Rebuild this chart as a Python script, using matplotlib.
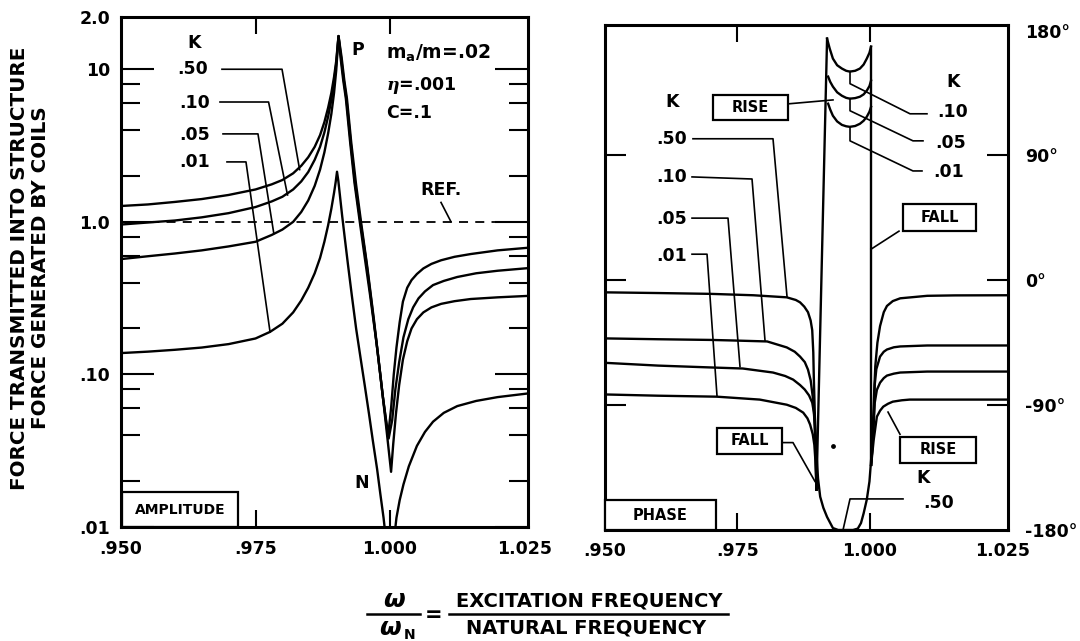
import matplotlib
matplotlib.use("Agg")
import matplotlib.pyplot as plt
from matplotlib.patches import Rectangle
from matplotlib.lines import Line2D
from matplotlib.ticker import FixedLocator, NullFormatter
import numpy as np

nan = np.nan

# ---- amplitude panel: force ratio vs frequency ratio, one curve per K
amp_k50_f = [0.9500, 0.9550, 0.9600, 0.9650, 0.9700, 0.9750, 0.9780, 0.9800, 0.9820, 0.9835,
             0.9848, 0.9860, 0.9870, 0.9878, 0.9885, 0.9891, 0.9896, 0.9900, 0.99043,
             0.9908, 0.9913, 0.9918, 0.9926, 0.9934, 0.9943, 0.9952, 0.9963, 0.9975, 0.9986,
             0.99963, 1.0002, 1.0007, 1.0012, 1.0018, 1.0024, 1.0032, 1.0040, 1.0050, 1.0062,
             1.0077, 1.0095, 1.0120, 1.0150, 1.0200, 1.0256]
amp_k50 = [1.27, 1.30, 1.35, 1.41, 1.50, 1.63, 1.76, 1.88, 2.08, 2.33,
           2.65, 3.1, 3.7, 4.5, 5.6, 7.0, 8.9, 11.3, 16.5,
           12.0, 8.5, 6.4, 3.3, 1.8, 1.05, 0.62, 0.33, 0.16, 0.075,
           0.039, 0.06, 0.10, 0.15, 0.22, 0.30, 0.37, 0.415, 0.455, 0.495,
           0.53, 0.56, 0.59, 0.615, 0.65, 0.676]

amp_k10_f = [0.9500, 0.9550, 0.9600, 0.9650, 0.9700, 0.9750, 0.9780, 0.9800, 0.9820, 0.9835,
             0.9848, 0.9860, 0.9870, 0.9878, 0.9885, 0.9891, 0.9896, 0.9900, 0.99043,
             0.9909, 0.9914, 0.9919, 0.9927, 0.9935, 0.9945, 0.9955, 0.9966, 0.9977, 0.9987,
             0.99975, 1.0004, 1.0010, 1.0017, 1.0025, 1.0034, 1.0043, 1.0053, 1.0065, 1.0080,
             1.0100, 1.0125, 1.0160, 1.0200, 1.0256]
amp_k10 = [0.96, 0.99, 1.02, 1.07, 1.14, 1.25, 1.36, 1.46, 1.63, 1.84,
           2.12, 2.55, 3.1, 3.85, 4.9, 6.3, 8.3, 10.8, 16.5,
           12.0, 8.5, 6.4, 3.3, 1.8, 1.0, 0.58, 0.29, 0.14, 0.07,
           0.038, 0.05, 0.08, 0.12, 0.175, 0.23, 0.275, 0.315, 0.35, 0.385,
           0.41, 0.435, 0.46, 0.478, 0.497]

amp_k05_f = [0.9500, 0.9550, 0.9600, 0.9650, 0.9700, 0.9750, 0.9780, 0.9800, 0.9820, 0.9835,
             0.9848, 0.9860, 0.9870, 0.9878, 0.9885, 0.9891, 0.9896, 0.9900, 0.99043,
             0.9910, 0.9915, 0.9920, 0.9928, 0.9937, 0.9947, 0.9958, 0.9970, 0.9982, 0.9993,
             1.0002, 1.0006, 1.0011, 1.0017, 1.0024, 1.0032, 1.0040, 1.0050, 1.0062, 1.0077,
             1.0095, 1.0120, 1.0150, 1.0200, 1.0256]
amp_k05 = [0.57, 0.595, 0.62, 0.65, 0.69, 0.74, 0.82, 0.89, 1.0, 1.16,
           1.38, 1.72, 2.2, 2.85, 3.8, 5.1, 7.0, 9.8, 16.5,
           12.0, 8.5, 6.4, 3.3, 1.75, 0.95, 0.5, 0.23, 0.10, 0.045,
           0.023, 0.035, 0.055, 0.085, 0.125, 0.165, 0.20, 0.23, 0.255, 0.275,
           0.29, 0.302, 0.312, 0.32, 0.327]

amp_k01_f = [0.9500, 0.9550, 0.9600, 0.9650, 0.9700, 0.9750, 0.9777, 0.9800, 0.9820, 0.9835,
             0.9848, 0.9860, 0.9870, 0.9878, 0.9885, 0.9891, 0.9896, 0.9899, 0.99015,
             0.9904, 0.9907, 0.9911, 0.9916, 0.9922, 0.9929, 0.9937, 0.9945, 0.9953, 0.9961,
             0.9968, 0.9976, 0.9982, 0.9988, 0.9993, 0.99995, 1.0007, 1.0012, 1.0018, 1.0025,
             1.0035, 1.0050, 1.0065, 1.0080, 1.0100, 1.0125, 1.0160, 1.0200, 1.0256]
amp_k01 = [0.138, 0.141, 0.145, 0.150, 0.158, 0.172, 0.19, 0.215, 0.255, 0.305,
           0.37, 0.46, 0.58, 0.74, 0.95, 1.22, 1.55, 1.82, 2.13,
           1.85, 1.48, 1.1, 0.78, 0.52, 0.33, 0.2, 0.13, 0.085, 0.055,
           0.037, 0.024, 0.0165, 0.0115, 0.008, 0.003, 0.008, 0.0115, 0.015, 0.019,
           0.025, 0.034, 0.042, 0.049, 0.056, 0.062, 0.067, 0.071, 0.075]

ref_f = [0.9524, 1.0256]
ref_amp = [1.0, 1.0]

# ---- phase panel (degrees), nan breaks where the phase wraps
ph_k50_f = [0.9500, 0.9600, 0.9700, 0.9780, 0.9843, 0.9860, 0.9868, 0.9876, 0.9883, 0.9888,
            0.9891, 0.9893, 0.9894, 0.9896, 0.9899, 0.9902, 0.9906, 0.9912, 0.9919, 0.9930,
            0.9940, 0.9950, 0.9968, 0.9977, 0.9983, 0.9988, 0.9994, 0.9999, 1.0003, 1.0006,
            1.0008, 1.0010, 1.0014, 1.0019, 1.0026, 1.0032, 1.0043, 1.0057, 1.0108, 1.0160, 1.0260]
ph_k50 = [-8.7, -9.2, -9.8, -10.8, -12.3, -14.2, -15.9, -19, -23, -29,
          -36, -52, -70, -98, -125, -143, -156, -164, -170.6, -178.6,
          -180, -180, -180, -179, -175, -168, -158, -145, -125, -100,
          -80, -62, -45, -33, -23, -18.5, -15, -13, -11.2, -10.9, -10.8]

ph_k10_f = [0.9500, 0.9600, 0.9700, 0.9742, 0.9806, 0.9843, 0.9858, 0.9868, 0.9877, 0.9883,
            0.9888, 0.9892, 0.9895, 0.9897, 0.9899, nan,
            0.9919, 0.9924, 0.9930, 0.9938, 0.9947, 0.9955, 0.9962, 0.9972, 0.9981, 0.9988,
            0.9994, 0.9999, 1.0002, nan,
            1.00022, 1.0006, 1.0008, 1.0009, 1.0012, 1.0019, 1.0026, 1.0032, 1.0045, 1.0057,
            1.0108, 1.0260]
ph_k10 = [-41.9, -42.5, -43.0, -43.4, -44.1, -48.4, -51.5, -55, -59, -64.4,
          -72, -84, -98, -120, -151, nan,
          174.2, 167, 159.8, 155, 152.6, 151, 150.4, 151, 152.6, 155.5,
          159.8, 164, 168.5, nan,
          -133, -112, -90, -75, -64, -55, -51.5, -49.9, -48.3, -47.7,
          -47, -47]

ph_k05_f = [0.9500, 0.9600, 0.9704, 0.9760, 0.9817, 0.9840, 0.9855, 0.9868, 0.9877, 0.9885,
            0.9891, 0.9894, 0.9896, 0.9898, 0.9899, nan,
            0.9921, 0.9925, 0.9930, 0.9938, 0.9947, 0.9955, 0.9962, 0.9972, 0.9981, 0.9988,
            0.9994, 0.9999, 1.0002, nan,
            1.00022, 1.0005, 1.0007, 1.0009, 1.0013, 1.0019, 1.0026, 1.0032, 1.0045, 1.0057,
            1.0108, 1.0260]
ph_k05 = [-59.5, -61.5, -62.9, -63.6, -66.5, -69, -71.6, -75.5, -78.8, -83,
          -88.2, -95, -105, -125, -151, nan,
          146.8, 143, 139.6, 135.5, 133, 131.5, 130.9, 131.3, 132.3, 134,
          136.7, 140, 143.9, nan,
          -133, -118, -103, -88.2, -79, -73.8, -70.5, -68.7, -67.3, -66.5,
          -65.8, -65.8]

ph_k01_f = [0.9500, 0.9600, 0.9711, 0.9792, 0.9843, 0.9860, 0.9874, 0.9882, 0.9887, 0.9892,
            0.9895, 0.9897, 0.9899, nan,
            0.9921, 0.9925, 0.9930, 0.9938, 0.9947, 0.9955, 0.9962, 0.9972, 0.9981, 0.9988,
            0.9994, 0.9999, 1.0002, nan,
            1.00022, 1.0007, 1.0013, 1.0019, 1.0025, 1.0034, 1.0043, 1.0060, 1.0075, 1.0260]
ph_k01 = [-82.3, -83.2, -83.9, -86, -89.7, -92, -95.4, -99.5, -104, -111,
          -118.6, -130, -151, nan,
          127.3, 123, 118.6, 114.5, 112, 111, 110.6, 111.2, 112.8, 115,
          117.9, 121.5, 125, nan,
          -133, -115, -98.3, -94, -91.1, -89, -87.5, -86.5, -86, -86]

rise_f = [0.9899, 0.9919]
rise_deg = [-151, 174.2]
fall_f = [1.00022, 1.00022]
fall_deg = [168.5, -133]

x_ticks = [0.950, 0.975, 1.000, 1.025]
x_labels = ['.950', '.975', '1.000', '1.025']
amp_ticks = [0.01, 0.1, 1.0, 10.0, 22.0]
amp_labels = ['.01', '.10', '1.0', '10', '2.0']
amp_minor = [0.02, 0.04, 0.06, 0.08, 0.2, 0.4, 0.6, 0.8, 2, 4, 6, 8]
ph_ticks = [-180, -90, 0, 90, 180]
ph_labels = ['-180°', '-90°', '0°', '90°', '180°']

plt.rcParams['font.family'] = ['DejaVu Sans']
plt.rcParams['font.weight'] = 'bold'
plt.rcParams['mathtext.fontset'] = 'custom'
plt.rcParams['mathtext.rm'] = 'DejaVu Sans:bold'
plt.rcParams['mathtext.bf'] = 'DejaVu Sans:bold'
plt.rcParams['mathtext.it'] = 'DejaVu Serif:italic:bold'

W, H = 1080, 641
fig = plt.figure(figsize=(W / 100, H / 100), dpi=100)


def fbox(l, t, r, b):
    return [l / W, 1 - b / H, (r - l) / W, (b - t) / H]


def fpt(x, y):
    return (x / W, 1 - y / H)


ax1 = fig.add_axes(fbox(121, 17, 528, 527))
ax2 = fig.add_axes(fbox(605, 25, 1008, 530))

LW = 1.7
LL = 1.2
FS = 12.5

# amplitude curves
ax1.set_yscale('log')
for f, a in [(amp_k50_f, amp_k50), (amp_k10_f, amp_k10), (amp_k05_f, amp_k05), (amp_k01_f, amp_k01)]:
    ax1.plot(f, a, color='black', lw=LW, solid_joinstyle='round')
ax1.plot(ref_f, ref_amp, color='black', lw=1.3, linestyle=(0, (5, 4)))
ax1.set_xlim(0.950, 1.02565)
ax1.set_ylim(0.01, 22)

# phase curves
for f, p in [(ph_k50_f, ph_k50), (ph_k10_f, ph_k10), (ph_k05_f, ph_k05), (ph_k01_f, ph_k01)]:
    ax2.plot(f, p, color='black', lw=LW, solid_joinstyle='round')
ax2.plot(rise_f, rise_deg, color='black', lw=LW)
ax2.plot(fall_f, fall_deg, color='black', lw=LW)
ax2.scatter([0.99302], [-119.3], s=6, color='black')
ax2.set_xlim(0.950, 1.02604)
ax2.set_ylim(-180, 184)

for ax in (ax1, ax2):
    for s in ax.spines.values():
        s.set_linewidth(2.2)
    ax.set_xticks(x_ticks)
    ax.set_xticklabels(x_labels, fontsize=FS, fontweight='bold')
    ax.tick_params(axis='x', which='major', direction='in', length=12, width=1.5,
                   top=True, bottom=True, pad=9)

ax1.set_yticks(amp_ticks)
ax1.set_yticklabels(amp_labels, fontsize=FS, fontweight='bold')
ax1.yaxis.set_minor_locator(FixedLocator(amp_minor))
ax1.yaxis.set_minor_formatter(NullFormatter())
ax1.tick_params(axis='y', which='major', direction='in', length=24, width=1.5,
                left=True, right=True, pad=8)
ax1.tick_params(axis='y', which='minor', direction='in', length=14, width=1.5,
                left=True, right=True)

ax2.set_yticks(ph_ticks)
ax2.set_yticklabels(ph_labels, fontsize=FS, fontweight='bold')
ax2.tick_params(axis='y', which='major', direction='in', length=15, width=1.5,
                left=True, right=True, labelleft=False, labelright=True, pad=12)

# no tick marks at the frame edges, only labels
for ax in (ax1, ax2):
    xt = ax.xaxis.get_major_ticks()
    for t in (xt[0], xt[-1]):
        t.tick1line.set_visible(False)
        t.tick2line.set_visible(False)
for t in (ax1.yaxis.get_major_ticks()[-1], ax2.yaxis.get_major_ticks()[0], ax2.yaxis.get_major_ticks()[-1]):
    t.tick1line.set_visible(False)
    t.tick2line.set_visible(False)

# amplitude annotations
txt = dict(fontsize=FS, fontweight='bold', ha='center', va='center')
ax1.text(0.96368, 14.8, 'K', **txt)
ax1.text(0.96338, 10.0, '.50', **txt)
ax1.text(0.96368, 6.0, '.10', **txt)
ax1.text(0.96368, 3.7, '.05', **txt)
ax1.text(0.96368, 2.47, '.01', **txt)
ax1.plot([0.96877, 0.97993, 0.98320], [10, 10, 2.2], color='black', lw=LL)
ax1.plot([0.9684, 0.97743, 0.98095], [6.1, 6.1, 1.5], color='black', lw=LL)
ax1.plot([0.96896, 0.97546, 0.9784], [3.77, 3.77, 0.84], color='black', lw=LL)
ax1.plot([0.9697, 0.97323, 0.9777], [2.47, 2.47, 0.19], color='black', lw=LL)
ax1.text(0.99405, 13.3, 'P', **txt)
ax1.text(0.99926, 12.9, 'm$_\\mathregular{a}$/m=.02', fontsize=13.5, fontweight='bold', ha='left', va='center')
ax1.text(0.99926, 7.8, '$\\eta$=.001', fontsize=FS, fontweight='bold', ha='left', va='center')
ax1.text(0.99926, 5.2, 'C=.1', fontsize=FS, fontweight='bold', ha='left', va='center')
ax1.text(1.00948, 1.62, 'REF.', **txt)
ax1.plot([1.00948, 1.01134], [1.34, 1.0], color='black', lw=LL)
ax1.text(0.99480, 0.0195, 'N', **txt)
ax1.add_patch(Rectangle((0.0025, 0.0), 0.285, 0.068, transform=ax1.transAxes,
                        fill=False, lw=1.6, clip_on=False))
ax1.text(0.145, 0.034, 'AMPLITUDE', transform=ax1.transAxes, fontsize=10,
         fontweight='bold', ha='center', va='center')

# phase annotations
ax2.text(0.96264, 128.7, 'K', **txt)
ax2.text(0.96264, 102, '.50', **txt)
ax2.text(0.96264, 74.5, '.10', **txt)
ax2.text(0.96264, 44, '.05', **txt)
ax2.text(0.96264, 17.4, '.01', **txt)
ax2.plot([0.96660, 0.98170, 0.98434], [102, 102, -11.6], color='black', lw=LL)
ax2.plot([0.96642, 0.97774, 0.98019], [74.5, 73, -43.4], color='black', lw=LL)
ax2.plot([0.96642, 0.97321, 0.97547], [44.8, 44.8, -62.2], color='black', lw=LL)
ax2.plot([0.96642, 0.96925, 0.97113], [18.8, 18.8, -83.2], color='black', lw=LL)

ax2.text(1.01566, 143, 'K', **txt)
ax2.text(1.01566, 121.5, '.10', **txt)
ax2.text(1.01530, 99, '.05', **txt)
ax2.text(1.01490, 78, '.01', **txt)
ax2.plot([0.99623, 0.99623, 1.00755, 1.01075], [150.4, 141.7, 120, 120], color='black', lw=LL)
ax2.plot([0.99623, 0.99623, 1.00811, 1.01000], [130.9, 122.2, 100.5, 100.5], color='black', lw=LL)
ax2.plot([0.99623, 0.99623, 1.00811, 1.00981], [110.6, 100.5, 78.8, 78.8], color='black', lw=LL)

ax2.text(1.0100, -142.4, 'K', **txt)
ax2.text(1.0130, -160.5, '.50', **txt)
ax2.plot([1.00623, 0.99623, 0.99491], [-157.6, -157.6, -180], color='black', lw=LL)

ax2.plot([0.97811, 0.99302], [125, 130], color='black', lw=LL)
ax2.plot([1.00547, 1.00019], [35.4, 22.4], color='black', lw=LL)
ax2.plot([0.98340, 0.98547, 0.98962], [-117, -117, -145], color='black', lw=LL)
ax2.plot([1.00566, 1.00340], [-111, -95], color='black', lw=LL)


def px_box(ax, l, t, r, b, label, fs=10.5):
    # boxes placed by pixel position of the reference, converted to axes fraction
    pos = ax.get_position()
    x0, x1 = pos.x0 * W, pos.x1 * W
    y0, y1 = (1 - pos.y1) * H, (1 - pos.y0) * H
    ax_l = (l - x0) / (x1 - x0)
    ax_r = (r - x0) / (x1 - x0)
    ax_t = (y1 - t) / (y1 - y0)
    ax_b = (y1 - b) / (y1 - y0)
    ax.add_patch(Rectangle((ax_l, ax_b), ax_r - ax_l, ax_t - ax_b, transform=ax.transAxes,
                           facecolor='white', edgecolor='black', lw=1.6, zorder=5, clip_on=False))
    ax.text((ax_l + ax_r) / 2, (ax_t + ax_b) / 2, label, transform=ax.transAxes, fontsize=fs,
            fontweight='bold', ha='center', va='center', zorder=6)


px_box(ax2, 713, 95, 788, 120, 'RISE')
px_box(ax2, 903, 204, 976, 231, 'FALL')
px_box(ax2, 717, 428, 782, 454, 'FALL')
px_box(ax2, 900, 437, 976, 463, 'RISE')
px_box(ax2, 605, 500, 716, 530, 'PHASE')

# y axis label (two lines)
fig.text(*fpt(20, 268), 'FORCE TRANSMITTED INTO STRUCTURE', rotation=90, fontsize=14.3,
         fontweight='bold', ha='center', va='center')
fig.text(*fpt(41, 268), 'FORCE GENERATED BY COILS', rotation=90, fontsize=14.3,
         fontweight='bold', ha='center', va='center')

# x axis label as a fraction
fig.text(*fpt(394, 600), 'ω', fontsize=18, fontstyle='italic', fontweight='bold',
         ha='center', va='center')
fig.text(*fpt(390, 628), 'ω', fontsize=18, fontstyle='italic', fontweight='bold',
         ha='center', va='center')
fig.text(*fpt(410, 635), 'N', fontsize=10, fontweight='bold', ha='center', va='center')
fig.add_artist(Line2D([367 / W, 420 / W], [1 - 614 / H, 1 - 614 / H], color='black', lw=1.8))
fig.text(*fpt(434, 615), '=', fontsize=15, fontweight='bold', ha='center', va='center')
fig.add_artist(Line2D([449 / W, 728 / W], [1 - 614 / H, 1 - 614 / H], color='black', lw=1.8))
fig.text(*fpt(589, 601), 'EXCITATION FREQUENCY', fontsize=14, fontweight='bold',
         ha='center', va='center')
fig.text(*fpt(586, 628), 'NATURAL FREQUENCY', fontsize=14, fontweight='bold',
         ha='center', va='center')

fig.savefig('out.png', dpi=100, facecolor='white')
